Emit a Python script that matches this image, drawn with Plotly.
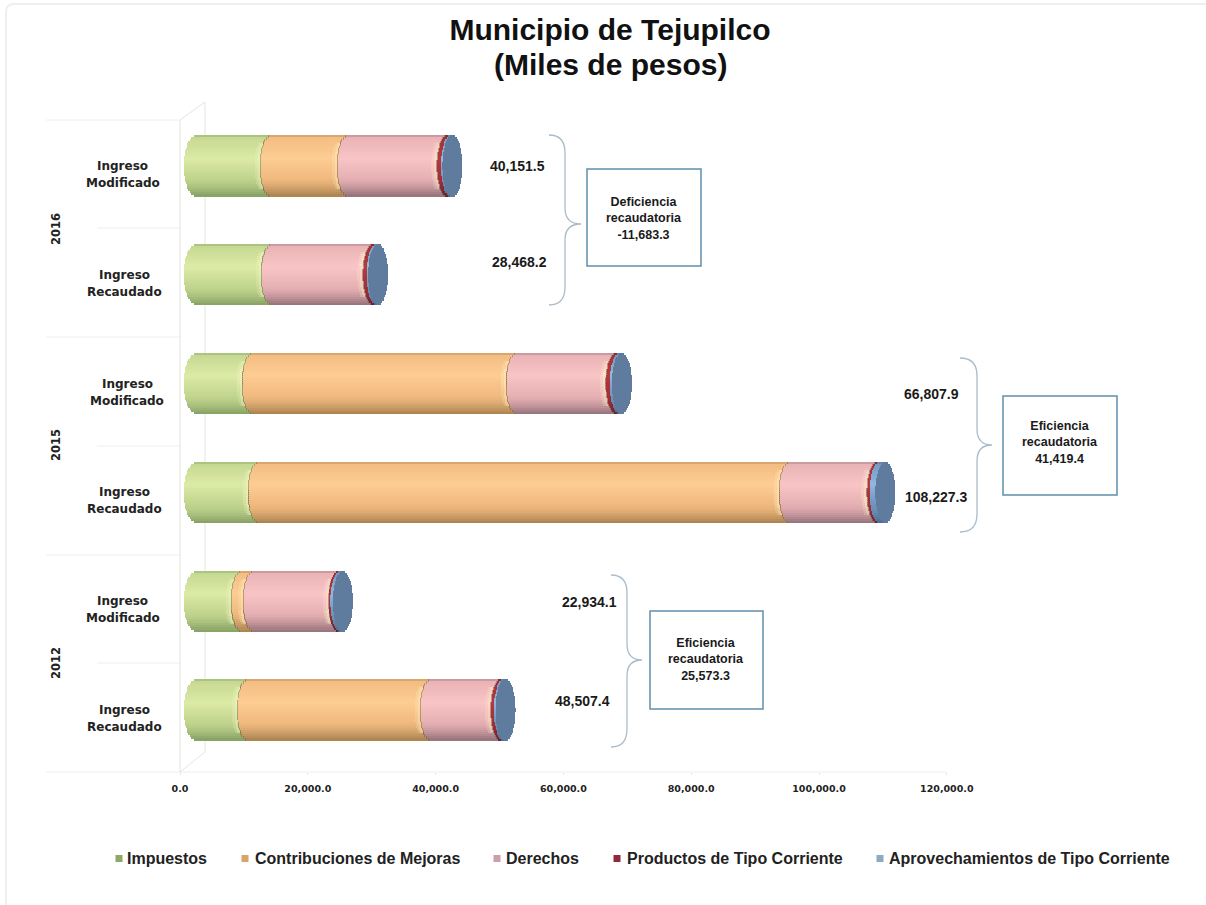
import plotly.graph_objects as go

years = ["2012", "2015", "2016"]
rows = [("Ingreso", "Recaudado"), ("Ingreso", "Modificado")] * 3
series = ["Impuestos", "Contribuciones de Mejoras", "Derechos",
          "Productos de Tipo Corriente", "Aprovechamientos de Tipo Corriente"]
# rows run bottom to top: 2012 Rec, 2012 Mod, 2015 Rec, 2015 Mod, 2016 Rec, 2016 Mod
impuestos = [8019, 7075, 9748, 8805, 11792, 11635]
contribuciones = [28773, 1887, 83491, 41509, 0, 12107]
derechos = [11015.4, 13372.1, 13738.3, 15593.9, 15926.2, 15609.5]
productos = [500, 200, 350, 550, 600, 650]
aprovechamientos = [200, 400, 900, 350, 150, 150]
values = [impuestos, contribuciones, derechos, productos, aprovechamientos]
tick_values = [0, 20000, 40000, 60000, 80000, 100000, 120000]

W, H = 1206, 905
SCALE = 6.36          # px per 1000
BAR_ZERO = 197        # px of the bars' zero
TICK_ZERO = 180       # px of the axis' zero
TICK_SCALE = 6.39
ROW0, ROW_STEP = 710, 108.8
BAR_H = 61
CURVE = 10            # px half width of the cylinder ellipse
START_CURVE = 13
N = 30

BASE_LIGHT = ["#dcebA6", "#fdcd94", "#f9c4c6", "#b53a3c", "#93b7df"]
BASE_MID = ["#c3d68f", "#f2bb80", "#e8b2b5", "#a43035", "#7096bf"]
BASE_DARK = ["#85a063", "#a98150", "#94717a", "#6a1f2a", "#4a6a8c"]
CAP = "#5f7c9f"
KEY_COLORS = ["#8fa868", "#d9a468", "#c9a0a8", "#8e2a3c", "#8fa9c2"]

def hex2(c):
    c = c.lstrip("#")
    return [int(c[i:i+2], 16) for i in (0, 2, 4)]

def mix(a, b, f):
    x, y = hex2(a), hex2(b)
    return "rgb(%d,%d,%d)" % tuple(round(x[i] + (y[i] - x[i]) * f) for i in range(3))

def shade(k, t):
    # t in -1..1 top to bottom
    if t < -0.92:
        return mix(BASE_MID[k], BASE_DARK[k], 0.35)
    if t < -0.25:
        return mix(BASE_MID[k], BASE_LIGHT[k], (t + 1) / 0.75)
    if t < 0.35:
        return mix(BASE_LIGHT[k], BASE_MID[k], (t + 0.25) / 0.6)
    return mix(BASE_MID[k], BASE_DARK[k], ((t - 0.35) / 0.65) ** 1.5)

curve_units = CURVE / SCALE * 1000
start_units = START_CURVE / SCALE * 1000
fig = go.Figure()
strip = (BAR_H / ROW_STEP) / N
ts = [-1 + (j + 0.5) * 2 / N for j in range(N)]

def bulge(i, t):
    """Left-ward curve of the boundary in front of series i (i == 5 is the far end)."""
    if i == 0:
        return start_units * (1 - abs(t) ** 2.6) ** 0.6
    if i <= 2:
        return curve_units * (1 - abs(t) ** 2.6) ** 0.6
    return curve_units * (1 - t * t) ** 0.5

totals = [sum(v[r] for v in values) for r in range(6)]

for k, vals in enumerate(values):
    ys, xs, bases, cols = [], [], [], []
    for r in range(6):
        start = sum(values[q][r] for q in range(k))
        for t in ts:
            left = start - bulge(k, t)
            right = start + vals[r] - bulge(k + 1, t)
            ys.append(r - t * (BAR_H / ROW_STEP) / 2)
            bases.append(left)
            xs.append(max(right - left, 0))
            cols.append(shade(k, t))
    fig.add_trace(go.Bar(orientation="h", y=ys, x=xs, base=bases, width=strip * 1.15,
                         marker=dict(color=cols, line=dict(width=0)),
                         showlegend=False, hoverinfo="skip", xaxis="x", yaxis="y"))

# soft pale rim, then a thin dark edge, at each segment's right end
for colour, wide, shift, limit in [("rgba(255,250,205,0.18)", 800, 150, 0.75),
                                   ("rgba(255,250,205,0.25)", 400, 150, 0.75),
                                   ("rgba(80,60,40,0.35)", 150, 0, 0.97)]:
    ys, xs, bases = [], [], []
    for k in range(3):
        for r in range(6):
            if values[k][r] < 1500:
                continue
            end = sum(values[q][r] for q in range(k + 1))
            for t in ts:
                if abs(t) > limit:
                    continue
                ys.append(r - t * (BAR_H / ROW_STEP) / 2)
                bases.append(end - bulge(k + 1, t) - wide - shift)
                xs.append(wide)
    fig.add_trace(go.Bar(orientation="h", y=ys, x=xs, base=bases, width=strip * 1.15,
                         marker=dict(color=colour, line=dict(width=0)),
                         showlegend=False, hoverinfo="skip", xaxis="x", yaxis="y"))

# end cap of each cylinder
ys, xs, bases, cols = [], [], [], []
for r in range(6):
    for t in ts:
        b = bulge(5, t)
        ys.append(r - t * (BAR_H / ROW_STEP) / 2)
        bases.append(totals[r] - b)
        xs.append(2 * b)
        cols.append(CAP)
fig.add_trace(go.Bar(orientation="h", y=ys, x=xs, base=bases, width=strip * 1.15,
                     marker=dict(color=cols, line=dict(width=0)),
                     showlegend=False, hoverinfo="skip", xaxis="x", yaxis="y"))

# carrier for the visible value axis
fig.add_trace(go.Scatter(x=[0, 120000], y=[0, 0], mode="markers", marker=dict(opacity=0),
                         showlegend=False, hoverinfo="skip", xaxis="x2", yaxis="y"))

def px(x): return x / W
def py(y): return 1 - y / H

def line(x0, y0, x1, y1, color="#e4e6dc", width=1):
    fig.add_shape(type="line", xref="paper", yref="paper", x0=px(x0), y0=py(y0), x1=px(x1), y1=py(y1),
                  line=dict(color=color, width=width), layer="below")

# faint page frame
p_ = lambda x, y: f"{px(x):.5f},{py(y):.5f}"
fig.add_shape(type="path", xref="paper", yref="paper", layer="below",
              path=f"M{p_(6, 905)} L{p_(6, 12)} Q{p_(6, 4)} {p_(14, 4)} L{p_(1206, 4)}",
              line=dict(color="#efefef", width=2))

for y, x0 in [(120, 46), (337, 46), (555, 46), (772, 46), (228, 97), (446, 97), (663, 97)]:
    line(x0, y, 180, y, "#eeeeea")
line(180, 772, 947, 772, "#eeeeea")
line(180, 120, 180, 772)
line(180, 120, 205, 102)
line(205, 102, 205, 752)
line(205, 752, 180, 772)

def brace(x0, xs, xt, y0, ym, y1):
    p = p_
    d = (f"M{p(x0, y0)} Q{p(xs, y0)} {p(xs, y0 + 18)} L{p(xs, ym - 16)} Q{p(xs, ym)} {p(xt, ym)} "
         f"Q{p(xs, ym)} {p(xs, ym + 16)} L{p(xs, y1 - 18)} Q{p(xs, y1)} {p(x0, y1)}")
    fig.add_shape(type="path", path=d, xref="paper", yref="paper",
                  line=dict(color="#a9bccb", width=1.3))

def text(x, y, s, size=12, family="Liberation Sans", angle=0, color="#1a1a1a", anchor="center"):
    fig.add_annotation(xref="paper", yref="paper", x=px(x), y=py(y), text=f"<b>{s}</b>",
                       showarrow=False, textangle=angle, xanchor=anchor, yanchor="middle", align="center",
                       font=dict(family=family, size=size, color=color))

def box(x0, y0, x1, y1, cx, cy, label):
    fig.add_shape(type="rect", xref="paper", yref="paper", x0=px(x0), y0=py(y0), x1=px(x1), y1=py(y1),
                  line=dict(color="#5f90ac", width=1.5), fillcolor="white")
    text(cx, cy, label, size=12.5)

brace(549, 565, 581, 135, 224, 305)
brace(960, 977, 992, 358, 445, 532)
brace(611, 627, 642, 575, 660, 747)

num = lambda v: f"{v:,.1f}"
for r, (nx, ny) in enumerate([(582, 701), (589, 602), (936, 497), (931, 394), (519, 262), (517, 166)]):
    text(nx, ny, num(totals[r]), 14)
box(587, 169, 701, 266, 644, 218, f"Deficiencia<br>recaudatoria<br>{num(totals[4] - totals[5])}")
box(1003, 396, 1117, 495, 1060, 443, f"Eficiencia<br>recaudatoria<br>{num(totals[2] - totals[3])}")
box(650, 611, 763, 709, 706, 659, f"Eficiencia<br>recaudatoria<br>{num(totals[0] - totals[1])}")

label_x = [124, 123, 124, 127, 124, 123]
for r, (a, b) in enumerate(rows):
    yc = ROW0 - r * ROW_STEP
    text(label_x[r], yc, a, 12, "DejaVu Sans", color="#222")
    text(label_x[r], yc + 17, b, 12, "DejaVu Sans", color="#222")
for i, yr in enumerate(years):
    text(56, [663, 445, 229][i], yr, 11.5, "DejaVu Sans", angle=-90, color="#222")

# second title line, with the reference's tight leading
text(610, 64, "(Miles de pesos)", 30, color="#111")

# legend keys and labels
key_x = [119, 245, 497, 617, 880]
text_x = [125, 253, 504, 625, 887]
for k, s in enumerate(series):
    fig.add_shape(type="rect", xref="paper", yref="paper", x0=px(key_x[k] - 3.5), x1=px(key_x[k] + 3.5),
                  y0=py(862), y1=py(855), line=dict(width=0), fillcolor=KEY_COLORS[k])
    text(text_x[k], 858, s, 16, color="#222", anchor="left")

fig.update_layout(
    width=W, height=H, autosize=False, margin=dict(l=0, r=0, t=0, b=0), showlegend=False,
    paper_bgcolor="white", plot_bgcolor="rgba(0,0,0,0)", barmode="overlay", bargap=0,
    title=dict(text="<b>Municipio de Tejupilco</b>", x=610 / W, xanchor="center",
               y=1 - 29 / H, yanchor="middle", font=dict(family="Liberation Sans", size=30, color="#111")),
    xaxis=dict(domain=[0, 1], range=[-BAR_ZERO / SCALE * 1000, (W - BAR_ZERO) / SCALE * 1000], visible=False),
    xaxis2=dict(overlaying="x", side="bottom", anchor="free", position=1 - 772 / H,
                range=[-TICK_ZERO / TICK_SCALE * 1000, (W - TICK_ZERO) / TICK_SCALE * 1000],
                tickmode="array", tickvals=tick_values, tickformat=",.1f", showgrid=False, zeroline=False,
                showline=False, ticks="outside", ticklen=2, tickcolor="#e4e4e0", ticklabelstandoff=6,
                tickfont=dict(family="DejaVu Sans", size=9.5, color="#222", weight="bold")),
    yaxis=dict(domain=[0, 1], range=[(ROW0 - H) / ROW_STEP, ROW0 / ROW_STEP], visible=False),
)
fig.write_html("out.html", config={"displayModeBar": False},
               post_script="document.body.style.margin='0';")
